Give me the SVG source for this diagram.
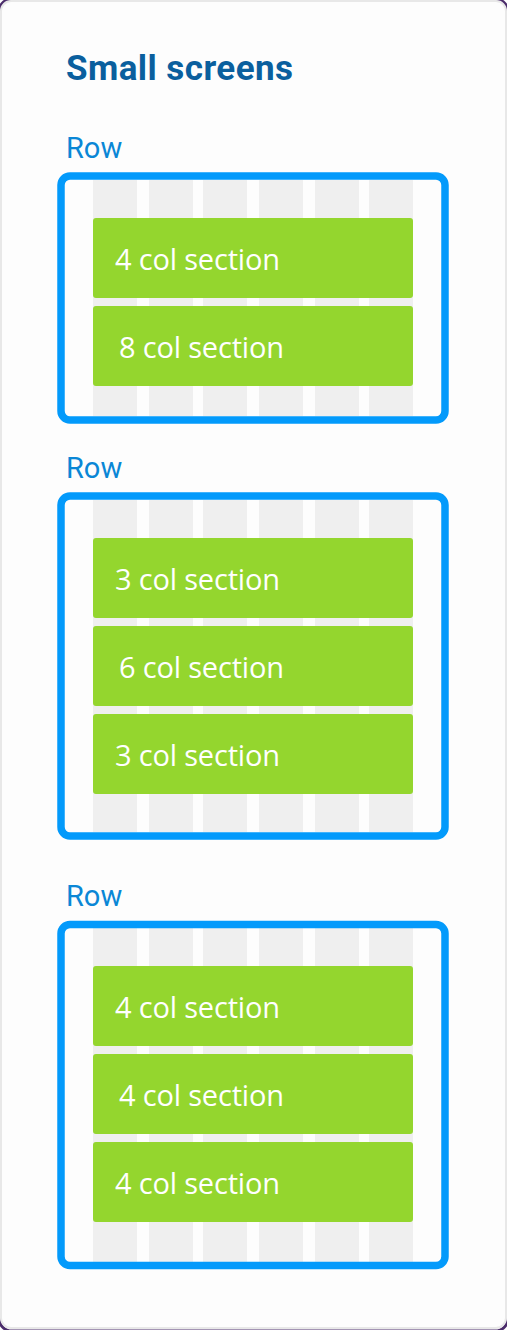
<svg xmlns="http://www.w3.org/2000/svg" width="507" height="1330" viewBox="0 0 507 1330">
<style>
.title{font-family:Roboto,"Liberation Sans",sans-serif;font-weight:bold;font-size:35px;fill:#0a5f9e}
.lbl{font-family:Roboto,"Liberation Sans",sans-serif;font-size:29px;fill:#0a87d6}
.rowbox{fill:none;stroke:#039afb;stroke-width:7.5}
.col{fill:#efefef}
.sec{fill:#8ed423;fill-opacity:0.95}
.st{font-family:"Open Sans","Noto Sans",sans-serif;font-size:29px;fill:#ffffff}
</style>
<rect x="-1" y="-1" width="509" height="1332" rx="13" fill="#ffffff" stroke="#4b2c6b" stroke-width="3"/>
<rect x="1" y="1" width="505" height="1327" rx="10" fill="#fdfdfd" stroke="#e8e8e8" stroke-width="2"/>
<text class="title" x="66" y="80" textLength="227">Small screens</text>

<g id="row1">
<text class="lbl" x="66" y="158">Row</text>
<g id="row1-grid">
<rect class="col" x="93" y="180" width="44" height="236"/>
<rect class="col" x="149" y="180" width="44" height="236"/>
<rect class="col" x="203" y="180" width="44" height="236"/>
<rect class="col" x="259" y="180" width="44" height="236"/>
<rect class="col" x="315" y="180" width="44" height="236"/>
<rect class="col" x="369" y="180" width="44" height="236"/>
</g>
<rect class="rowbox" x="61" y="176" width="384" height="244" rx="9"/>
</g>
<g id="row1-sec1"><rect class="sec" x="93" y="218" width="320" height="80" rx="3"/><text class="st" x="115" y="270" textLength="165">4 col section</text></g>
<g id="row1-sec2"><rect class="sec" x="93" y="306" width="320" height="80" rx="3"/><text class="st" x="119" y="358" textLength="165">8 col section</text></g>

<g id="row2">
<text class="lbl" x="66" y="478">Row</text>
<g id="row2-grid">
<rect class="col" x="93" y="500" width="44" height="332"/>
<rect class="col" x="149" y="500" width="44" height="332"/>
<rect class="col" x="203" y="500" width="44" height="332"/>
<rect class="col" x="259" y="500" width="44" height="332"/>
<rect class="col" x="315" y="500" width="44" height="332"/>
<rect class="col" x="369" y="500" width="44" height="332"/>
</g>
<rect class="rowbox" x="61" y="496" width="384" height="340" rx="9"/>
</g>
<g id="row2-sec1"><rect class="sec" x="93" y="538" width="320" height="80" rx="3"/><text class="st" x="115" y="590" textLength="165">3 col section</text></g>
<g id="row2-sec2"><rect class="sec" x="93" y="626" width="320" height="80" rx="3"/><text class="st" x="119" y="678" textLength="165">6 col section</text></g>
<g id="row2-sec3"><rect class="sec" x="93" y="714" width="320" height="80" rx="3"/><text class="st" x="115" y="766" textLength="165">3 col section</text></g>

<g id="row3">
<text class="lbl" x="66" y="906">Row</text>
<g id="row3-grid">
<rect class="col" x="93" y="928" width="44" height="334"/>
<rect class="col" x="149" y="928" width="44" height="334"/>
<rect class="col" x="203" y="928" width="44" height="334"/>
<rect class="col" x="259" y="928" width="44" height="334"/>
<rect class="col" x="315" y="928" width="44" height="334"/>
<rect class="col" x="369" y="928" width="44" height="334"/>
</g>
<rect class="rowbox" x="61" y="924.5" width="384" height="341" rx="9"/>
</g>
<g id="row3-sec1"><rect class="sec" x="93" y="966" width="320" height="80" rx="3"/><text class="st" x="115" y="1018" textLength="165">4 col section</text></g>
<g id="row3-sec2"><rect class="sec" x="93" y="1054" width="320" height="80" rx="3"/><text class="st" x="119" y="1106" textLength="165">4 col section</text></g>
<g id="row3-sec3"><rect class="sec" x="93" y="1142" width="320" height="80" rx="3"/><text class="st" x="115" y="1194" textLength="165">4 col section</text></g>

<g id="connectors"/>
</svg>
